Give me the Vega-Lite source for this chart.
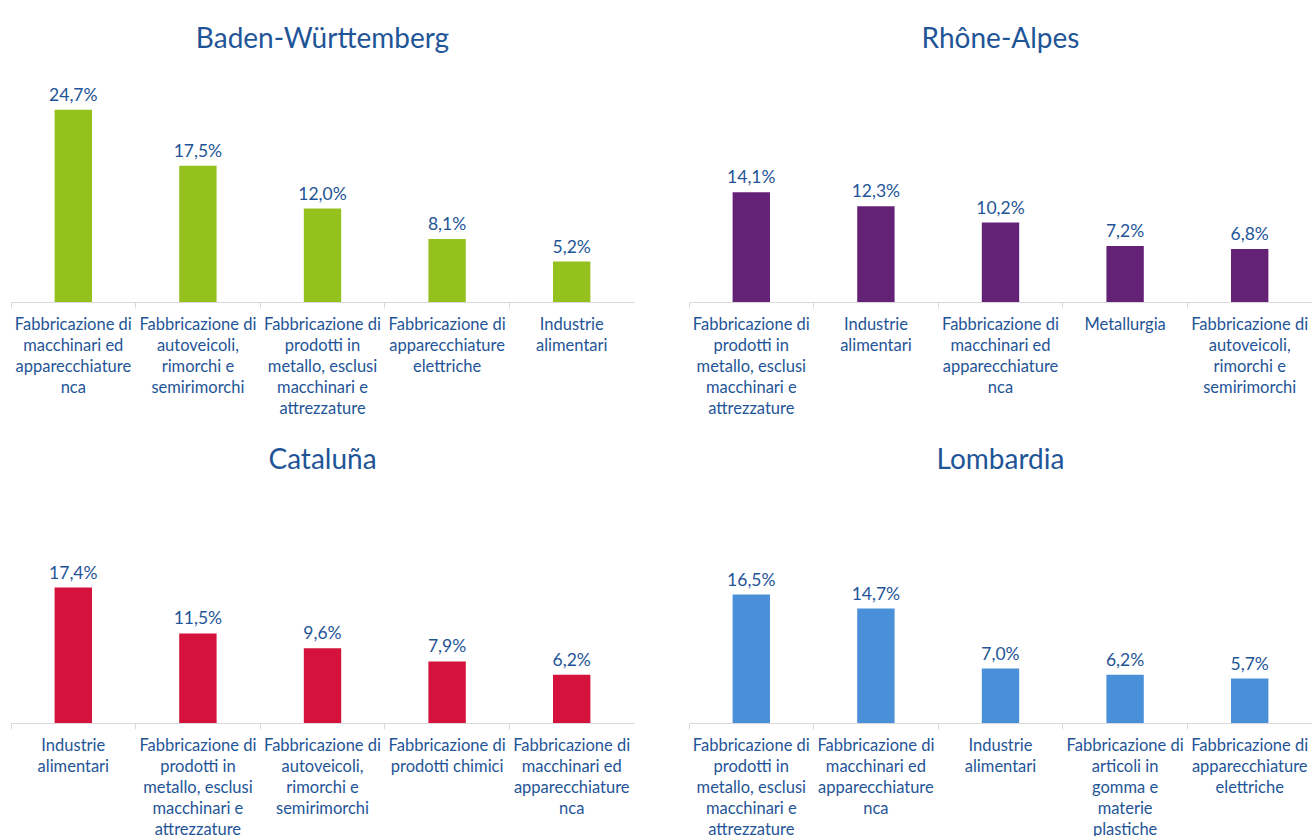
{
  "$schema": "https://vega.github.io/schema/vega-lite/v6.json",
  "padding": {"left": 10, "top": 26, "right": 0, "bottom": 0},
  "background": "white",
  "data": {"values": [
    {"region": "Baden-Württemberg", "settore": "Fabbricazione di|macchinari ed|apparecchiature|nca", "quota": 0.247},
    {"region": "Baden-Württemberg", "settore": "Fabbricazione di|autoveicoli,|rimorchi e|semirimorchi", "quota": 0.175},
    {"region": "Baden-Württemberg", "settore": "Fabbricazione di|prodotti in|metallo, esclusi|macchinari e|attrezzature", "quota": 0.120},
    {"region": "Baden-Württemberg", "settore": "Fabbricazione di|apparecchiature|elettriche", "quota": 0.081},
    {"region": "Baden-Württemberg", "settore": "Industrie|alimentari", "quota": 0.052},
    {"region": "Rhône-Alpes", "settore": "Fabbricazione di|prodotti in|metallo, esclusi|macchinari e|attrezzature", "quota": 0.141},
    {"region": "Rhône-Alpes", "settore": "Industrie|alimentari", "quota": 0.123},
    {"region": "Rhône-Alpes", "settore": "Fabbricazione di|macchinari ed|apparecchiature|nca", "quota": 0.102},
    {"region": "Rhône-Alpes", "settore": "Metallurgia", "quota": 0.072},
    {"region": "Rhône-Alpes", "settore": "Fabbricazione di|autoveicoli,|rimorchi e|semirimorchi", "quota": 0.068},
    {"region": "Cataluña", "settore": "Industrie|alimentari", "quota": 0.174},
    {"region": "Cataluña", "settore": "Fabbricazione di|prodotti in|metallo, esclusi|macchinari e|attrezzature", "quota": 0.115},
    {"region": "Cataluña", "settore": "Fabbricazione di|autoveicoli,|rimorchi e|semirimorchi", "quota": 0.096},
    {"region": "Cataluña", "settore": "Fabbricazione di|prodotti chimici", "quota": 0.079},
    {"region": "Cataluña", "settore": "Fabbricazione di|macchinari ed|apparecchiature|nca", "quota": 0.062},
    {"region": "Lombardia", "settore": "Fabbricazione di|prodotti in|metallo, esclusi|macchinari e|attrezzature", "quota": 0.165},
    {"region": "Lombardia", "settore": "Fabbricazione di|macchinari ed|apparecchiature|nca", "quota": 0.147},
    {"region": "Lombardia", "settore": "Industrie|alimentari", "quota": 0.070},
    {"region": "Lombardia", "settore": "Fabbricazione di|articoli in|gomma e|materie|plastiche", "quota": 0.062},
    {"region": "Lombardia", "settore": "Fabbricazione di|apparecchiature|elettriche", "quota": 0.057}
  ]},
  "facet": {"field": "region", "type": "nominal", "sort": ["Baden-Württemberg", "Rhône-Alpes", "Cataluña", "Lombardia"],
    "header": {"title": null, "labelFontSize": 28, "labelColor": "#1f5597", "labelFont": "Lato", "labelPadding": 30}},
  "columns": 2,
  "spacing": {"column": 54, "row": 30},
  "resolve": {"scale": {"x": "independent"}, "axis": {"x": "independent"}},
  "spec": {
    "width": 623,
    "height": 218,
    "encoding": {
      "x": {"field": "settore", "type": "nominal", "sort": "-y",
        "scale": {"paddingInner": 0, "paddingOuter": 0},
        "axis": {"title": null, "labelAngle": 0, "labelExpr": "split(datum.label, '|')", "labelFont": "Lato", "labelFontSize": 16.5, "labelLineHeight": 21, "labelColor": "#1f5597", "labelOverlap": false, "labelBound": false, "labelLimit": 200, "labelBaseline": "top", "labelPadding": 8, "tickSize": 6, "tickColor": "#d9d9d9", "domainColor": "#d9d9d9", "bandPosition": 0}},
      "y": {"field": "quota", "type": "quantitative", "scale": {"domain": [0, 0.28]}, "axis": null}
    },
    "layer": [
      {"mark": {"type": "bar", "width": {"band": 0.3}},
       "encoding": {"color": {"field": "region", "type": "nominal", "legend": null,
         "scale": {"domain": ["Baden-Württemberg", "Rhône-Alpes", "Cataluña", "Lombardia"], "range": ["#95c11f", "#642277", "#d4123b", "#4a90d9"]}}}},
      {"mark": {"type": "text", "baseline": "alphabetic", "dy": -9, "font": "Lato", "fontSize": 17.5, "color": "#1f5597"},
       "encoding": {"text": {"field": "quota", "type": "quantitative", "format": ".1%"}}}
    ]
  },
  "config": {
    "view": {"stroke": null},
    "locale": {"number": {"decimal": ",", "thousands": ".", "grouping": [3], "currency": ["", " €"]}}
  }
}
